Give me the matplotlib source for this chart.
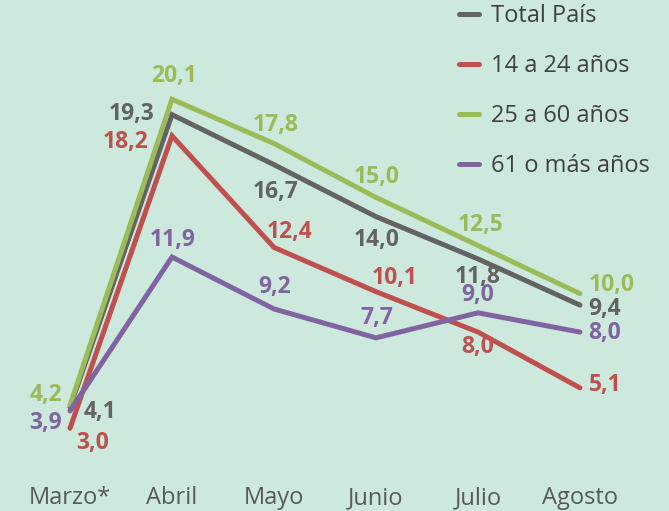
import matplotlib
matplotlib.use("Agg")
import matplotlib.pyplot as plt

plt.rcParams['font.family'] = ['Open Sans', 'DejaVu Sans']

months = ['Marzo*', 'Abril', 'Mayo', 'Junio', 'Julio', 'Agosto']
series_names = ['Total País', '14 a 24 años', '25 a 60 años', '61 o más años']
total = [4.1, 19.3, 16.7, 14.0, 11.8, 9.4]
young = [3.0, 18.2, 12.4, 10.1, 8.0, 5.1]
adult = [4.2, 20.1, 17.8, 15.0, 12.5, 10.0]
senior = [3.9, 11.9, 9.2, 7.7, 9.0, 8.0]
colors = ['#636363', '#c0504d', '#9bbb59', '#8064a2']

# label offsets in pixels (dx, dy up)
offsets = [
    [(30, -5), (-40, 1), (2, -27), (1, -23), (0, -18), (25, -4)],
    [(23, -15), (-46, -6), (16, 15), (19, 14), (0, -15), (25, 3)],
    [(-24, 10), (2, 23), (2, 19), (1, 20), (3, 21), (32, 9)],
    [(-24, -12), (1, 17), (1, 22), (1, 20), (0, 18), (25, -1)],
]

bg = '#cde9de'
fig = plt.figure(figsize=(6.69, 5.11), dpi=100, facecolor=bg)
ax = fig.add_axes([19 / 669, 25 / 511, 612 / 669, 481 / 511])
ax.set_facecolor(bg)

xs = list(range(len(months)))
for name, vals, col, offs in zip(series_names, [total, young, adult, senior], colors, offsets):
    ax.plot(xs, vals, color=col, linewidth=3.6, label=name,
            solid_capstyle='round', solid_joinstyle='miter', clip_on=False)
    for x, v, (dx, dy) in zip(xs, vals, offs):
        ax.annotate(f'{v:.1f}'.replace('.', ','), (x, v), xytext=(dx, dy),
                    textcoords='offset pixels', ha='center', va='center',
                    color=col, fontsize=16.5, fontweight='bold')

ax.set_xlim(-0.5, 5.5)
ax.set_ylim(0, 25)
ax.set_xticks(xs)
ax.set_xticklabels(months, fontsize=17, color='#595959')
ax.tick_params(axis='x', length=0, pad=0)
ax.set_yticks([])
for s in ax.spines.values():
    s.set_visible(False)

fig.legend(loc='upper left', bbox_to_anchor=(459 / 669, 1 - 4 / 511), frameon=False,
           fontsize=17, labelcolor='#404040', handlelength=0.85,
           handletextpad=0.5, labelspacing=1.1, borderpad=0, borderaxespad=0)

fig.savefig('out.png', dpi=100, facecolor=bg)
